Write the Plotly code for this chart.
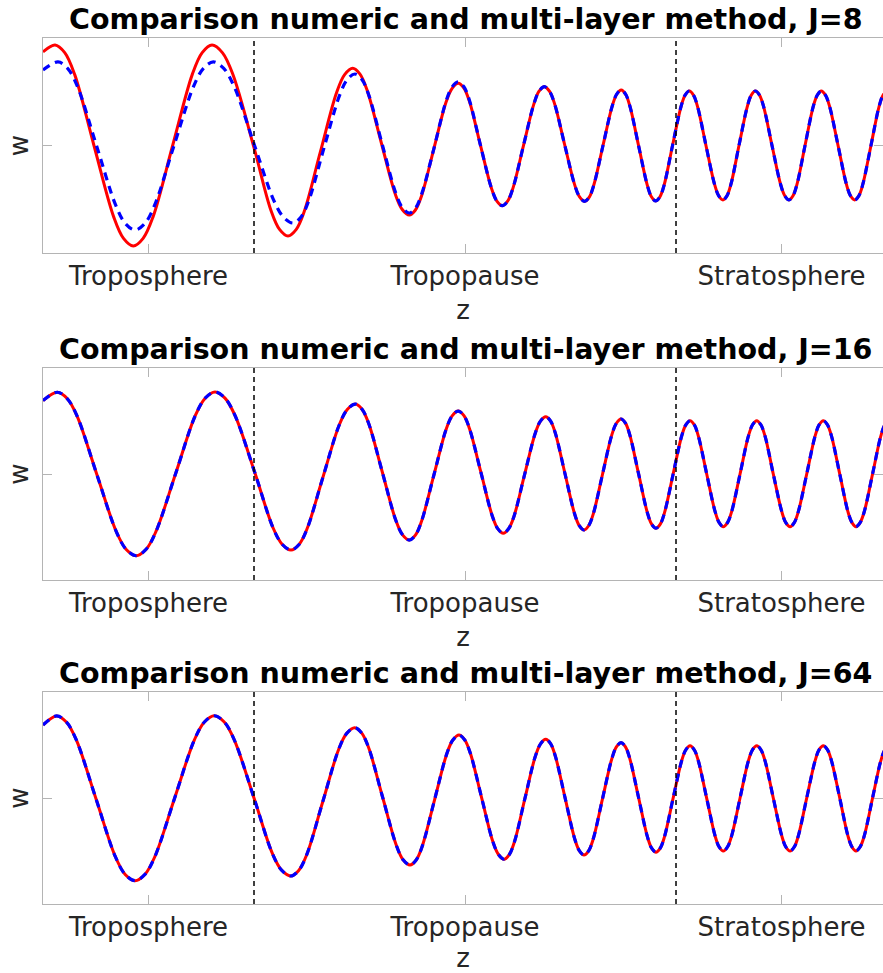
import plotly.graph_objects as go

# ---------------- data ----------------
ZONE_TICKS = [1, 4, 7]
ZONE_LABELS = ["Troposphere", "Tropopause", "Stratosphere"]
BOUNDARIES = [2, 6]
J_VALUES = [8, 16, 64]
TITLE_TEXT = "Comparison numeric and multi-layer method, J={}"

# Panel 1 (J=8): numeric (red, solid)
z1_num = [0, 0.114, 0.206, 0.299, 0.483, 0.670, 0.763, 0.856, 0.949, 1.043,
          1.229, 1.416, 1.509, 1.602, 1.702, 1.801, 2.0, 2.161, 2.242, 2.322,
          2.399, 2.476, 2.629, 2.783, 2.859, 2.936, 3.003, 3.070, 3.204, 3.338,
          3.405, 3.472, 3.530, 3.588, 3.704, 3.820, 3.878, 3.936, 3.988, 4.041,
          4.145, 4.250, 4.302, 4.354, 4.404, 4.454, 4.553, 4.653, 4.702, 4.752,
          4.800, 4.848, 4.943, 5.039, 5.086, 5.134, 5.178, 5.221, 5.308, 5.395,
          5.438, 5.481, 5.522, 5.563, 5.645, 5.727, 5.767, 5.808, 5.848, 5.888,
          5.967, 6.047, 6.086, 6.126, 6.166, 6.205, 6.284, 6.365, 6.405, 6.445,
          6.483, 6.521, 6.597, 6.675, 6.713, 6.752, 6.792, 6.831, 6.910, 6.991,
          7.031, 7.071, 7.109, 7.147, 7.223, 7.300, 7.339, 7.377, 7.417, 7.457,
          7.536, 7.615, 7.654, 7.694, 7.733, 7.771, 7.848, 7.924, 7.962, 8.0]
w1_num = [0.870, 0.935, 0.864, 0.664, 0.0, -0.664, -0.864, -0.935, -0.864, -0.664,
          0.0, 0.664, 0.864, 0.935, 0.862, 0.658, -0.02, -0.604, -0.780, -0.842,
          -0.783, -0.615, -0.06, 0.492, 0.659, 0.718, 0.666, 0.520, 0.035, -0.449,
          -0.595, -0.647, -0.600, -0.469, -0.033, 0.402, 0.532, 0.579, 0.536, 0.414,
          0.009, -0.395, -0.517, -0.560, -0.518, -0.399, -0.005, 0.387, 0.505, 0.547,
          0.506, 0.392, 0.014, -0.364, -0.478, -0.519, -0.480, -0.368, 0.0, 0.366,
          0.477, 0.516, 0.477, 0.366, 0.0, -0.366, -0.477, -0.516, -0.477, -0.366,
          0.0, 0.360, 0.468, 0.507, 0.468, 0.360, 0.0, -0.360, -0.468, -0.507,
          -0.468, -0.360, 0.0, 0.360, 0.468, 0.507, 0.468, 0.360, 0.0, -0.360,
          -0.468, -0.507, -0.468, -0.360, 0.0, 0.360, 0.468, 0.507, 0.468, 0.360,
          0.0, -0.360, -0.468, -0.507, -0.468, -0.360, 0.0, 0.360, 0.468, 0.507]
# Panel 1 (J=8): multi-layer (blue, dashed)
z1_ml = [0, 0.142, 0.233, 0.325, 0.507, 0.690, 0.781, 0.872, 0.965, 1.057,
         1.242, 1.428, 1.521, 1.614, 1.713, 1.812, 2.01, 2.190, 2.280, 2.370,
         2.444, 2.517, 2.664, 2.811, 2.884, 2.957, 3.021, 3.085, 3.213, 3.343,
         3.407, 3.472, 3.530, 3.588, 3.704, 3.820, 3.878, 3.936, 3.988, 4.041,
         4.145, 4.250, 4.302, 4.354, 4.404, 4.454, 4.553, 4.653, 4.702, 4.752,
         4.800, 4.848, 4.943, 5.039, 5.086, 5.134, 5.178, 5.221, 5.308, 5.395,
         5.438, 5.481, 5.522, 5.563, 5.645, 5.727, 5.767, 5.808, 5.848, 5.888,
         5.967, 6.047, 6.086, 6.126, 6.166, 6.205, 6.284, 6.365, 6.405, 6.445,
         6.483, 6.521, 6.597, 6.675, 6.713, 6.752, 6.792, 6.831, 6.910, 6.991,
         7.031, 7.071, 7.109, 7.147, 7.223, 7.300, 7.339, 7.377, 7.417, 7.457,
         7.536, 7.615, 7.654, 7.694, 7.733, 7.771, 7.848, 7.924, 7.962, 8.0]
w1_ml = [0.702, 0.777, 0.718, 0.552, 0.0, -0.558, -0.726, -0.786, -0.726, -0.558,
         0.0, 0.552, 0.718, 0.777, 0.717, 0.548, -0.014, -0.516, -0.667, -0.721,
         -0.668, -0.518, -0.02, 0.466, 0.613, 0.665, 0.616, 0.478, 0.02, -0.440,
         -0.579, -0.628, -0.583, -0.455, -0.033, 0.411, 0.545, 0.593, 0.549, 0.424,
         0.009, -0.395, -0.517, -0.560, -0.518, -0.399, -0.005, 0.387, 0.505, 0.547,
         0.506, 0.392, 0.014, -0.364, -0.478, -0.519, -0.480, -0.368, 0.0, 0.366,
         0.477, 0.516, 0.477, 0.366, 0.0, -0.366, -0.477, -0.516, -0.477, -0.366,
         0.0, 0.360, 0.468, 0.507, 0.468, 0.360, 0.0, -0.360, -0.468, -0.507,
         -0.468, -0.360, 0.0, 0.360, 0.468, 0.507, 0.468, 0.360, 0.0, -0.360,
         -0.468, -0.507, -0.468, -0.360, 0.0, 0.360, 0.468, 0.507, 0.468, 0.360,
         0.0, -0.360, -0.468, -0.507, -0.468, -0.360, 0.0, 0.360, 0.468, 0.507]

# Panel 2 (J=16): numeric and multi-layer coincide in the picture
z2_num = [0, 0.136, 0.229, 0.323, 0.509, 0.696, 0.789, 0.882, 0.976, 1.069,
          1.256, 1.443, 1.537, 1.630, 1.725, 1.820, 2.009, 2.180, 2.266, 2.351,
          2.427, 2.503, 2.654, 2.807, 2.884, 2.960, 3.024, 3.088, 3.216, 3.344,
          3.408, 3.472, 3.530, 3.588, 3.704, 3.820, 3.878, 3.936, 3.990, 4.043,
          4.150, 4.257, 4.310, 4.363, 4.413, 4.464, 4.564, 4.665, 4.715, 4.765,
          4.811, 4.856, 4.947, 5.038, 5.083, 5.128, 5.172, 5.216, 5.303, 5.391,
          5.435, 5.479, 5.521, 5.562, 5.645, 5.728, 5.769, 5.810, 5.851, 5.891,
          5.972, 6.053, 6.093, 6.133, 6.173, 6.212, 6.291, 6.370, 6.409, 6.448,
          6.488, 6.528, 6.607, 6.686, 6.726, 6.765, 6.804, 6.844, 6.922, 7.002,
          7.041, 7.081, 7.121, 7.160, 7.239, 7.318, 7.357, 7.396, 7.435, 7.474,
          7.552, 7.629, 7.668, 7.706, 7.745, 7.785, 7.863, 7.941, 7.980, 8.019]
w2_num = [0.692, 0.771, 0.712, 0.547, 0.0, -0.547, -0.712, -0.771, -0.712, -0.547,
          0.0, 0.550, 0.715, 0.774, 0.716, 0.552, 0.009, -0.506, -0.662, -0.717,
          -0.665, -0.517, -0.028, 0.460, 0.608, 0.660, 0.611, 0.474, 0.019, -0.437,
          -0.574, -0.623, -0.577, -0.446, -0.014, 0.418, 0.548, 0.594, 0.550, 0.427,
          0.019, -0.391, -0.515, -0.559, -0.517, -0.400, -0.009, 0.382, 0.499, 0.541,
          0.500, 0.386, 0.007, -0.373, -0.487, -0.528, -0.488, -0.376, -0.005, 0.367,
          0.479, 0.519, 0.480, 0.369, 0.003, -0.363, -0.473, -0.512, -0.473, -0.365,
          -0.005, 0.356, 0.464, 0.503, 0.465, 0.357, 0.0, -0.353, -0.459, -0.497,
          -0.459, -0.353, 0.0, 0.357, 0.465, 0.503, 0.465, 0.357, 0.0, -0.353,
          -0.459, -0.497, -0.459, -0.353, 0.0, 0.357, 0.465, 0.503, 0.465, 0.357,
          0.0, -0.353, -0.459, -0.497, -0.459, -0.353, 0.0, 0.357, 0.465, 0.503]
z2_ml = z2_num
w2_ml = w2_num

# Panel 3 (J=64): numeric and multi-layer coincide in the picture
z3_num = [0, 0.130, 0.223, 0.315, 0.500, 0.686, 0.779, 0.872, 0.966, 1.060,
          1.248, 1.436, 1.530, 1.624, 1.718, 1.812, 2.000, 2.174, 2.261, 2.348,
          2.424, 2.500, 2.651, 2.803, 2.879, 2.955, 3.020, 3.086, 3.216, 3.348,
          3.413, 3.479, 3.537, 3.595, 3.711, 3.827, 3.885, 3.943, 3.996, 4.050,
          4.156, 4.263, 4.317, 4.370, 4.419, 4.469, 4.567, 4.666, 4.716, 4.765,
          4.811, 4.856, 4.947, 5.038, 5.083, 5.128, 5.172, 5.216, 5.303, 5.391,
          5.435, 5.479, 5.521, 5.562, 5.645, 5.728, 5.769, 5.810, 5.851, 5.891,
          5.972, 6.053, 6.093, 6.133, 6.173, 6.212, 6.291, 6.370, 6.409, 6.448,
          6.488, 6.528, 6.607, 6.686, 6.726, 6.765, 6.804, 6.844, 6.922, 7.002,
          7.041, 7.081, 7.121, 7.160, 7.239, 7.318, 7.357, 7.396, 7.435, 7.474,
          7.552, 7.629, 7.668, 7.706, 7.745, 7.785, 7.863, 7.941, 7.980, 8.019]
w3_num = [0.689, 0.774, 0.715, 0.550, 0.0, -0.554, -0.721, -0.780, -0.721, -0.554,
          0.0, 0.551, 0.717, 0.776, 0.717, 0.551, 0.0, -0.523, -0.680, -0.736,
          -0.683, -0.534, -0.038, 0.460, 0.610, 0.663, 0.614, 0.476, 0.019, -0.443,
          -0.583, -0.632, -0.585, -0.454, -0.019, 0.416, 0.547, 0.594, 0.550, 0.424,
          0.009, -0.408, -0.533, -0.578, -0.535, -0.413, -0.009, 0.391, 0.511, 0.554,
          0.513, 0.396, 0.009, -0.379, -0.496, -0.538, -0.498, -0.385, -0.009, 0.368,
          0.482, 0.522, 0.483, 0.372, 0.005, -0.362, -0.473, -0.512, -0.473, -0.365,
          -0.005, 0.349, 0.455, 0.493, 0.455, 0.349, -0.003, -0.356, -0.462, -0.500,
          -0.462, -0.355, 0.0, 0.350, 0.456, 0.493, 0.456, 0.350, 0.0, -0.355,
          -0.462, -0.500, -0.462, -0.355, 0.0, 0.350, 0.456, 0.493, 0.456, 0.350,
          0.0, -0.355, -0.462, -0.500, -0.462, -0.355, 0.0, 0.350, 0.456, 0.493]
z3_ml = z3_num
w3_ml = w3_num

PANELS = [
    (z1_num, w1_num, z1_ml, w1_ml),
    (z2_num, w2_num, z2_ml, w2_ml),
    (z3_num, w3_num, z3_ml, w3_ml),
]

# ---------------- layout / styling ----------------
W, H = 883, 973
FONT = "DejaVu Sans"
TXT = "#262626"
AXC = "#b4b4b4"
X_RANGE = [0, 7.962]
Y_RANGE = [-1, 1]
PANEL_PX = [(38, 253), (368, 580), (692, 904)]   # (top, bottom) of each plot box
LEFT_PX = 43

fig = go.Figure()
layout = dict(
    width=W, height=H,
    margin=dict(l=0, r=0, t=0, b=0),
    paper_bgcolor="white", plot_bgcolor="white",
    showlegend=False,
    font=dict(family=FONT, color=TXT),
)
annotations = []
shapes = []

for i, (zn, wn, zm, wm) in enumerate(PANELS):
    k = "" if i == 0 else str(i + 1)
    xa, ya = "x" + k, "y" + k
    top, bot = PANEL_PX[i]
    fig.add_trace(go.Scatter(x=zn, y=wn, xaxis=xa, yaxis=ya, mode="lines",
                             line=dict(color="#ff0000", width=3, shape="spline", smoothing=1.0),
                             name="numeric"))
    fig.add_trace(go.Scatter(x=zm, y=wm, xaxis=xa, yaxis=ya, mode="lines",
                             line=dict(color="#0000ff", width=3.2, dash="8px,6px",
                                       shape="spline", smoothing=1.0),
                             name="multi-layer"))
    layout["xaxis" + k] = dict(
        domain=[LEFT_PX / W, 1], anchor=ya, range=X_RANGE,
        showline=True, linecolor=AXC, linewidth=1, mirror="ticks",
        ticks="inside", ticklen=9, tickcolor=AXC, tickwidth=1,
        tickvals=ZONE_TICKS, ticktext=ZONE_LABELS,
        tickfont=dict(family=FONT, size=26, color=TXT),
        showgrid=False, zeroline=False,
        title=dict(text="z", font=dict(family=FONT, size=26, color=TXT), standoff=10),
    )
    layout["yaxis" + k] = dict(
        domain=[1 - bot / H, 1 - top / H], anchor=xa, range=Y_RANGE,
        showline=True, linecolor=AXC, linewidth=1, mirror="ticks",
        ticks="inside", ticklen=9, tickcolor=AXC, tickwidth=1,
        tickvals=[0], ticktext=[""],
        showgrid=False, zeroline=False,
        title=dict(text="w", font=dict(family=FONT, size=26, color=TXT), standoff=3),
    )
    for b in BOUNDARIES:
        shapes.append(dict(type="line", xref=xa, yref=ya + " domain", x0=b, x1=b, y0=0, y1=1,
                           line=dict(color="black", width=1.5, dash="5px,4px")))
    annotations.append(dict(
        text="<b>" + TITLE_TEXT.format(J_VALUES[i]) + "</b>",
        xref=xa, yref=ya + " domain", x=4, y=1, xanchor="center", yanchor="bottom",
        showarrow=False, font=dict(family=FONT, size=28.5, color="black"), yshift=0,
    ))

layout["annotations"] = annotations
layout["shapes"] = shapes
fig.update_layout(**layout)
fig.write_html("out.html")
